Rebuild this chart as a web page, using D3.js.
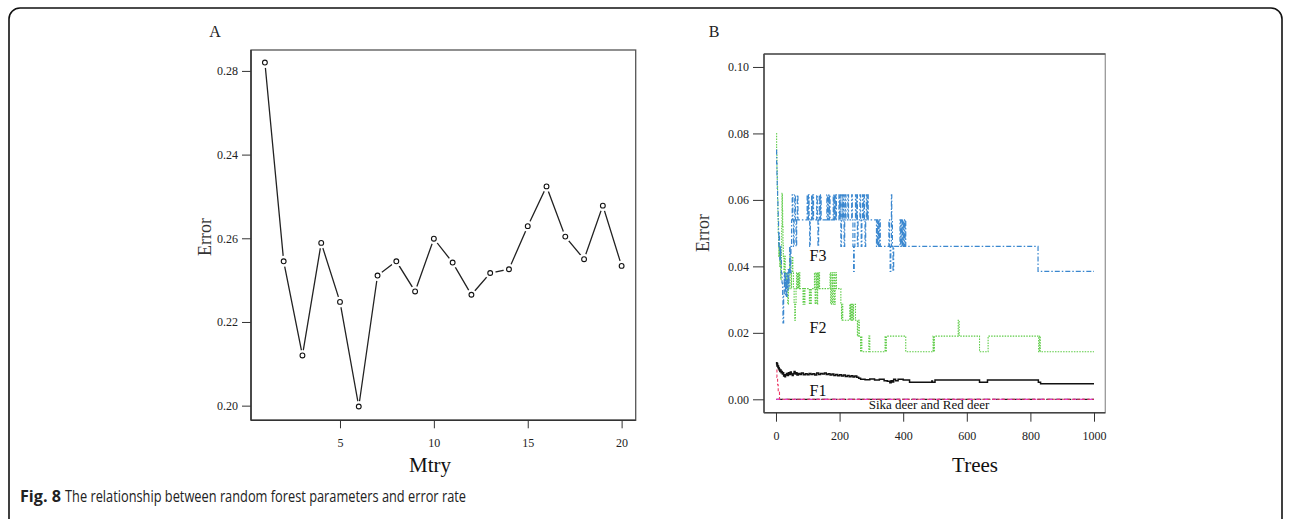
<!DOCTYPE html>
<html><head><meta charset="utf-8">
<script src="https://cdn.jsdelivr.net/npm/d3@7"></script>
<style>
html,body{margin:0;padding:0;background:#fff;}
svg{display:block;}
</style></head>
<body>
<svg id="chart" width="1290" height="519"></svg>
<script>
// ---------- Panel A data ----------
const mtry = [1,2,3,4,5,6,7,8,9,10,11,12,13,14,15,16,17,18,19,20];
const mtryError = [0.2820,0.2345,0.2120,0.2389,0.2248,0.1998,0.2311,0.2345,0.2273,0.2399,
                   0.2342,0.2265,0.2317,0.2326,0.2429,0.2524,0.2404,0.2350,0.2478,0.2334];
const aYTicks = [0.20,0.22,0.24,0.26,0.28];
const aYTickLabels = ["0.20","0.22","0.26","0.24","0.28"];
const aXTicks = [5,10,15,20];

// ---------- Panel B data: [trees, error] step breakpoints ----------
const seriesF3 = [
[1,0.075],[2,0.071],[3,0.067],[4,0.063],[5,0.060],[6,0.057],[7,0.054],[8,0.050],[9,0.046],[10,0.050],[11,0.046],[12,0.042],[14,0.046],[15,0.042],[17,0.038],[19,0.035],[21,0.031],[22,0.023],[24,0.031],[26,0.038],[27,0.034],[29,0.038],[30,0.031],[32,0.036],[33,0.031],[35,0.038],[36,0.033],[38,0.039],[40,0.034],[41,0.038],[43,0.046],[45,0.038],[47,0.046],[49,0.054],[51,0.0615],[53,0.054],[55,0.046],[57,0.054],[59,0.0615],[61,0.054],[63,0.046],[65,0.054],[67,0.0615],[69,0.054],
[98,0.0615],[100,0.054],[102,0.0615],[104,0.054],[106,0.046],[108,0.054],[112,0.0615],[114,0.054],[116,0.0615],[118,0.054],[128,0.0615],[130,0.054],[132,0.046],[134,0.054],[136,0.0615],[138,0.054],[140,0.0615],[142,0.054],[160,0.0615],[162,0.054],[164,0.0615],[166,0.054],[168,0.0615],[170,0.054],[180,0.0615],[182,0.054],[184,0.0615],[186,0.054],[188,0.0615],[190,0.054],
[198,0.0615],[200,0.054],[202,0.0615],[204,0.046],[206,0.054],[208,0.0615],[210,0.054],[212,0.0615],[214,0.046],[216,0.054],[218,0.0615],[220,0.054],[226,0.0615],[228,0.054],[238,0.0615],[240,0.054],[242,0.046],[244,0.0385],[246,0.046],[248,0.054],[250,0.0615],[252,0.054],[254,0.0615],[256,0.046],[258,0.054],
[264,0.0615],[266,0.054],[268,0.046],[270,0.054],[272,0.0615],[274,0.054],[276,0.0615],[278,0.054],[280,0.046],[282,0.054],[284,0.0615],[286,0.054],[288,0.0615],[290,0.054],[316,0.046],[318,0.054],[320,0.046],[322,0.054],[324,0.046],[326,0.054],[328,0.046],
[355,0.054],[357,0.046],[359,0.0385],[361,0.046],[363,0.0615],[364,0.054],[366,0.046],[368,0.0385],[370,0.046],[390,0.054],[392,0.046],[394,0.054],[396,0.046],[398,0.054],[400,0.046],[402,0.054],[404,0.046],[406,0.054],[408,0.046],[824,0.0385],[1000,0.0385]];

const seriesF2 = [
[1,0.080],[2,0.074],[3,0.069],[4,0.064],[5,0.060],[6,0.055],[7,0.050],[8,0.047],[9,0.043],[10,0.047],[11,0.043],[12,0.040],[13,0.045],[14,0.040],[15,0.036],[16,0.040],[17,0.045],[18,0.052],[19,0.062],[20,0.057],[21,0.052],[22,0.047],[23,0.043],[25,0.038],[27,0.043],[29,0.038],[31,0.0333],[33,0.0381],[35,0.0333],[37,0.0286],[39,0.0333],[41,0.0381],[43,0.0429],[45,0.0381],[47,0.0333],[49,0.0381],[51,0.0429],[53,0.0381],[55,0.0333],[57,0.0286],[59,0.0238],[61,0.0286],[63,0.0333],[65,0.0381],[67,0.0333],[69,0.0381],[71,0.0333],[73,0.0381],[75,0.0333],
[85,0.0286],[87,0.0333],[89,0.0286],[91,0.0333],[105,0.0286],[107,0.0333],[109,0.0286],[111,0.0333],[121,0.0381],[123,0.0286],[125,0.0333],[127,0.0381],[129,0.0286],[131,0.0381],[133,0.0333],[135,0.0381],[137,0.0333],
[170,0.0381],[172,0.0286],[174,0.0333],[176,0.0381],[178,0.0286],[180,0.0333],[182,0.0381],[184,0.0286],[186,0.0333],[188,0.0381],[190,0.0333],[204,0.0286],[206,0.0238],[208,0.0286],[210,0.0238],[232,0.0286],[234,0.0238],[236,0.0286],[238,0.0238],[240,0.0286],[242,0.0238],[244,0.0286],[250,0.0238],[256,0.0190],[258,0.0238],[262,0.0190],[266,0.0143],[268,0.0190],[270,0.0143],
[292,0.0190],[295,0.0143],[343,0.0190],[345,0.0143],[347,0.0190],[408,0.0143],[494,0.0190],[496,0.0143],[498,0.0190],[573,0.0238],[576,0.0190],[640,0.0143],[667,0.0190],[826,0.0143],[829,0.0190],[831,0.0143],[1000,0.0143]];

const seriesF1 = [
[1,0.0105],[2,0.0110],[3,0.0100],[4,0.0108],[5,0.0102],[6,0.0096],[7,0.0100],[8,0.0092],[9,0.0095],[10,0.0088],[11,0.0091],[12,0.0084],[14,0.0088],[16,0.0080],[18,0.0084],[20,0.0076],[22,0.0080],[24,0.0070],[26,0.0074],[28,0.0068],[30,0.0073],[33,0.0078],[36,0.0072],[39,0.0080],[42,0.0075],[45,0.0082],[48,0.0076],[51,0.0072],[54,0.0078],[57,0.0084],[60,0.0076],[63,0.0080],[66,0.0073],[70,0.0078],[75,0.0075],[80,0.0079],[86,0.0074],[92,0.0077],[98,0.0074],[104,0.0078],[110,0.0075],[116,0.0077],[122,0.0073],[128,0.0079],[134,0.0075],[140,0.0078],[146,0.0076],[152,0.0079],[158,0.0075],[164,0.0077],[170,0.0073],[176,0.0076],[182,0.0072],[188,0.0075],[194,0.0071],[200,0.0074],[206,0.0070],[212,0.0073],[218,0.0069],[224,0.0072],[230,0.0068],[236,0.0071],[242,0.0067],[248,0.0070],[254,0.0066],[260,0.0063],[266,0.0060],[280,0.0059],[295,0.0061],[310,0.0058],[325,0.0060],[340,0.0056],[350,0.0054],[358,0.0050],[362,0.0056],[366,0.0052],[370,0.0060],[376,0.0056],[384,0.0060],[400,0.0058],[420,0.0051],[490,0.0055],[492,0.0051],[500,0.0058],[640,0.0051],[665,0.0058],[825,0.0051],[832,0.0047],[1000,0.0047]];

const seriesRedEarly = [[1,0.0088],[3,0.0066],[5,0.0044],[7,0.0022],[11,0],[1000,0]];
const seriesSikaRed = [[1,0],[1000,0]];
const bYTicks = [0.00,0.02,0.04,0.06,0.08,0.10];
const bXTicks = [0,200,400,600,800,1000];

const svg = d3.select("#chart");
const serif = "'Liberation Serif','Times New Roman',serif";

// outer rounded border
svg.append("rect").attr("x",9).attr("y",8).attr("width",1273).attr("height",522)
  .attr("rx",11).attr("fill","none").attr("stroke","#111").attr("stroke-width",1.6);

// ---------- Panel A ----------
const ax = d3.scaleLinear().domain([0.26,20.75]).range([251,635.7]);
const ay = d3.scaleLinear().domain([0.1965,0.285]).range([420.3,50]);
const gA = svg.append("g");
gA.append("rect").attr("x",251).attr("y",50).attr("width",635.7-251).attr("height",420.3-50)
  .attr("fill","none").attr("stroke","#555").attr("stroke-width",1.3);
gA.append("line").attr("x1",251).attr("x2",251).attr("y1",50).attr("y2",420.3).attr("stroke","#333").attr("stroke-width",1.5);
gA.append("line").attr("x1",251).attr("x2",635.7).attr("y1",420.3).attr("y2",420.3).attr("stroke","#333").attr("stroke-width",1.5);

const aYAxis = d3.axisLeft(ay).tickValues(aYTicks).tickSize(9).tickPadding(4)
  .tickFormat((d,i)=>aYTickLabels[i]);
gA.append("g").attr("transform","translate(251,0)").call(aYAxis)
  .call(g=>g.select(".domain").remove())
  .call(g=>g.selectAll("line").attr("stroke","#333"))
  .call(g=>g.selectAll("text").attr("font-family",serif).attr("font-size",12).attr("fill","#222"));
const aXAxis = d3.axisBottom(ax).tickValues(aXTicks).tickSize(8).tickPadding(10);
gA.append("g").attr("transform","translate(0,420.3)").call(aXAxis)
  .call(g=>g.select(".domain").remove())
  .call(g=>g.selectAll("line").attr("stroke","#333"))
  .call(g=>g.selectAll("text").attr("font-family",serif).attr("font-size",12).attr("fill","#222"));

const ptsA = mtry.map((m,i)=>[m,mtryError[i]]);
gA.append("path").datum(ptsA)
  .attr("d",d3.line().x(d=>ax(d[0])).y(d=>ay(d[1])))
  .attr("fill","none").attr("stroke","#222").attr("stroke-width",1.3);
gA.selectAll("circle.gap").data(ptsA).join("circle").attr("class","gap")
  .attr("cx",d=>ax(d[0])).attr("cy",d=>ay(d[1])).attr("r",5.5).attr("fill","#fff");
gA.selectAll("circle.pt").data(ptsA).join("circle").attr("class","pt")
  .attr("cx",d=>ax(d[0])).attr("cy",d=>ay(d[1])).attr("r",2.4)
  .attr("fill","#fff").attr("stroke","#111").attr("stroke-width",1.1);

gA.append("text").attr("x",215).attr("y",37).attr("text-anchor","middle")
  .attr("font-family",serif).attr("font-size",16).attr("fill","#222").text("A");
gA.append("text").attr("transform","translate(211,237) rotate(-90)").attr("text-anchor","middle")
  .attr("font-family",serif).attr("font-size",18).attr("fill","#333").text("Error");
gA.append("text").attr("x",430).attr("y",472).attr("text-anchor","middle")
  .attr("font-family",serif).attr("font-size",21).attr("fill","#111").text("Mtry");

// ---------- Panel B ----------
const bx = d3.scaleLinear().domain([-37.7,1035.5]).range([764,1105.3]);
const by = d3.scaleLinear().domain([-0.00403,0.1039]).range([412.7,54]);
const gB = svg.append("g");
gB.append("rect").attr("x",764).attr("y",54).attr("width",1105.3-764).attr("height",412.7-54)
  .attr("fill","none").attr("stroke","#999").attr("stroke-width",1.3);
gB.append("line").attr("x1",764).attr("x2",1105.3).attr("y1",54).attr("y2",54).attr("stroke","#555").attr("stroke-width",1.4);
gB.append("line").attr("x1",764).attr("x2",764).attr("y1",54).attr("y2",412.7).attr("stroke","#444").attr("stroke-width",1.5);
gB.append("line").attr("x1",764).attr("x2",1105.3).attr("y1",412.7).attr("y2",412.7).attr("stroke","#444").attr("stroke-width",1.5);

const bYAxis = d3.axisLeft(by).tickValues(bYTicks).tickSize(11).tickPadding(4).tickFormat(d3.format(".2f"));
gB.append("g").attr("transform","translate(764,0)").call(bYAxis)
  .call(g=>g.select(".domain").remove())
  .call(g=>g.selectAll("line").attr("stroke","#333"))
  .call(g=>g.selectAll("text").attr("font-family",serif).attr("font-size",12).attr("fill","#222"));
const bXAxis = d3.axisBottom(bx).tickValues(bXTicks).tickSize(9).tickPadding(10).tickFormat(d3.format("d"));
gB.append("g").attr("transform","translate(0,412.7)").call(bXAxis)
  .call(g=>g.select(".domain").remove())
  .call(g=>g.selectAll("line").attr("stroke","#333"))
  .call(g=>g.selectAll("text").attr("font-family",serif).attr("font-size",12).attr("fill","#222"));

const stepLine = d3.line().x(d=>bx(d[0])).y(d=>by(d[1])).curve(d3.curveStepAfter);
const drawSeries = (data,color,dash,w)=>gB.append("path").datum(data).attr("d",stepLine)
  .attr("fill","none").attr("stroke",color).attr("stroke-width",w).attr("stroke-dasharray",dash);

drawSeries(seriesSikaRed,"#222","7,2",1.3);
drawSeries(seriesSikaRed,"#e23bd6","4,4",1.3);
drawSeries(seriesRedEarly,"#ec3a66","3,2",1.1);
drawSeries(seriesF2,"#5ccb45","1.5,1.2",1.1);
drawSeries(seriesF3,"#3a87cf","5,2,1.5,2",1.2);
drawSeries(seriesF1,"#111",null,1.5);

const lab = (x,y,t,s)=>gB.append("text").attr("x",x).attr("y",y).attr("text-anchor","middle")
  .attr("font-family",serif).attr("font-size",s).attr("fill","#111").text(t);
lab(818,261,"F3",16);
lab(818,333,"F2",16);
lab(818,396,"F1",16);
lab(929,409,"Sika deer and Red deer",13);

gB.append("text").attr("x",714).attr("y",37).attr("text-anchor","middle")
  .attr("font-family",serif).attr("font-size",16).attr("fill","#222").text("B");
gB.append("text").attr("transform","translate(709,233) rotate(-90)").attr("text-anchor","middle")
  .attr("font-family",serif).attr("font-size",18).attr("fill","#333").text("Error");
gB.append("text").attr("x",975).attr("y",472).attr("text-anchor","middle")
  .attr("font-family",serif).attr("font-size",21).attr("fill","#111").text("Trees");

// ---------- caption ----------
const capFont = "'Open Sans','Noto Sans',sans-serif";
svg.append("text").attr("x",20).attr("y",502)
  .attr("font-family",capFont).attr("font-size",15.5).attr("font-weight","bold").attr("fill","#222")
  .attr("textLength",41).attr("lengthAdjust","spacingAndGlyphs").text("Fig. 8");
svg.append("text").attr("x",65).attr("y",502)
  .attr("font-family",capFont).attr("font-size",15.5).attr("fill","#222")
  .attr("textLength",401).attr("lengthAdjust","spacingAndGlyphs")
  .text("The relationship between random forest parameters and error rate");
</script>
</body></html>
